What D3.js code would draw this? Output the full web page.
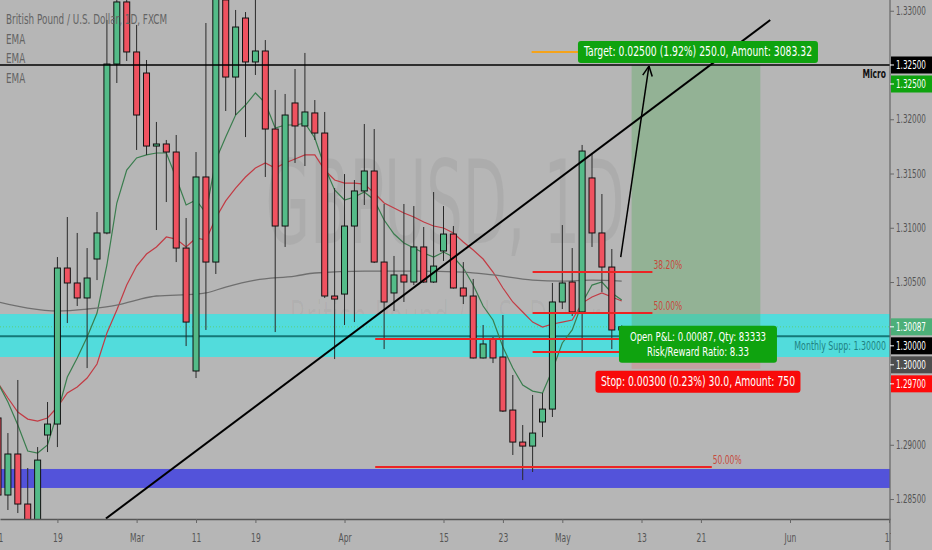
<!DOCTYPE html>
<html><head><meta charset="utf-8">
<script src="https://cdn.jsdelivr.net/npm/d3@7"></script>
<style>html,body{margin:0;padding:0;background:#b6b6b6;overflow:hidden}svg{display:block}</style>
</head><body><svg id="c" width="932" height="550"></svg>
<script>
// ---------- DATA ----------
const opens  = [1.29247,1.28537,1.28915,1.28454,1.28200,1.29090,1.29191,1.30629,1.30491,1.30353,
                1.30712,1.30952,1.32509,1.33081,1.32620,1.32426,1.31753,1.31772,1.31698,1.30813,
                1.29680,1.31468,1.30684,1.33100,1.32389,1.32933,1.32528,1.32629,1.31910,1.31016,
                1.32150,1.31938,1.32058,1.31873,1.30371,1.30389,1.31016,1.31339,1.31523,1.30684,
                1.30399,1.30565,1.30500,1.30823,1.30500,1.30786,1.30942,1.30445,1.30371,1.29800,
                1.29975,1.29809,1.29320,1.29025,1.28988,1.29210,1.29329,1.30316,1.30500,1.30224,
                1.31459,1.30952,1.30638,1.30058];
const highs  = [1.29366,1.29108,1.29597,1.28786,1.28979,1.29394,1.30730,1.31099,1.30952,1.30813,
                1.31145,1.32915,1.33300,1.33350,1.32869,1.32546,1.31975,1.31809,1.31855,1.31090,
                1.31698,1.32887,1.33400,1.33400,1.33007,1.32988,1.33120,1.32730,1.32270,1.32233,
                1.32463,1.32611,1.32177,1.32067,1.31366,1.31495,1.31440,1.31956,1.31910,1.31219,
                1.30740,1.31219,1.31200,1.31007,1.31329,1.31200,1.31016,1.30684,1.30528,1.30104,
                1.29993,1.30196,1.29643,1.29182,1.29459,1.29477,1.30491,1.31025,1.30813,1.31763,
                1.31689,1.31311,1.30804,1.30100];
const lows   = [1.28380,1.28399,1.28371,1.28000,1.27900,1.28933,1.28979,1.30122,1.30279,1.29707,
                1.30518,1.30940,1.32334,1.32537,1.31717,1.31671,1.30979,1.31237,1.30684,1.29910,
                1.29615,1.30058,1.30574,1.32076,1.32039,1.31836,1.32408,1.31468,1.30039,1.30823,
                1.31597,1.31569,1.31809,1.30353,1.29790,1.30104,1.30131,1.31210,1.30675,1.29882,
                1.30233,1.30316,1.30472,1.30491,1.30491,1.30694,1.30440,1.30297,1.29795,1.29795,
                1.29753,1.29302,1.28906,1.28675,1.28749,1.29071,1.29256,1.30251,1.30187,1.29864,
                1.30823,1.30408,1.29882,1.30040];
const closes = [1.28537,1.28915,1.28454,1.28200,1.28859,1.29191,1.30629,1.30491,1.30353,1.30537,
                1.30952,1.32509,1.33081,1.32620,1.32039,1.31753,1.31772,1.31698,1.30813,1.30131,
                1.31468,1.30684,1.33200,1.32389,1.32850,1.32528,1.32629,1.31910,1.31016,1.32039,
                1.31938,1.32067,1.31873,1.30371,1.30343,1.31016,1.31339,1.31523,1.30684,1.30316,
                1.30565,1.30500,1.30823,1.30500,1.30647,1.30942,1.30445,1.30371,1.29800,1.29929,
                1.29800,1.29311,1.29025,1.28988,1.29108,1.29329,1.30316,1.30491,1.30224,1.31707,
                1.30952,1.30638,1.30058,1.30087];
const emaFast = [1.29569,1.29394,1.29182,1.28942,1.28924,1.28998,1.29293,1.29624,1.29800,1.29993,
                 1.30214,1.30657,1.31228,1.31532,1.31643,1.31671,1.31689,1.31689,1.31459,1.31210,
                 1.31256,1.31136,1.31624,1.31836,1.32039,1.32131,1.32242,1.32150,1.31919,1.31947,
                 1.31947,1.31965,1.31827,1.31560,1.31348,1.31256,1.31283,1.31329,1.31256,1.31071,
                 1.30942,1.30859,1.30813,1.30767,1.30730,1.30776,1.30730,1.30629,1.30472,1.30279,
                 1.30150,1.29901,1.29707,1.29551,1.29495,1.29477,1.29689,1.29938,1.30058,1.30306,
                 1.30472,1.30500,1.30399,1.30334];
const emaMid  = [1.29569,1.29431,1.29302,1.29237,1.29219,1.29247,1.29348,1.29477,1.29532,1.29615,
                 1.29744,1.30030,1.30242,1.30472,1.30647,1.30758,1.30823,1.30915,1.30896,1.30823,
                 1.30906,1.30887,1.31090,1.31247,1.31366,1.31468,1.31551,1.31597,1.31551,1.31597,
                 1.31634,1.31671,1.31671,1.31532,1.31440,1.31412,1.31412,1.31403,1.31320,1.31228,
                 1.31182,1.31136,1.31099,1.31053,1.31016,1.30998,1.30952,1.30869,1.30795,1.30712,
                 1.30592,1.30445,1.30316,1.30224,1.30131,1.30085,1.30113,1.30131,1.30150,1.30306,
                 1.30362,1.30399,1.30362,1.30325];
const emaSlowIdx = [0,3,6,9,12,14,16,20,21,23,26,30,32,37,42,47,50,54,57,60,63];
const emaSlow    = [1.30316,1.30260,1.30233,1.30251,1.30288,1.30334,1.30371,1.30389,1.30399,1.30454,
                    1.30518,1.30555,1.30583,1.30601,1.30601,1.30592,1.30565,1.30518,1.30509,1.30518,1.30509];

const xTickIdx    = [0,6,14,20,26,35,45,51,57,65,71,80,90];
const xTickLabels = ["11","19","Mar","11","19","Apr","15","23","May","13","21","Jun","17"];
const priceTicks  = [1.33,1.32,1.315,1.31,1.305,1.29,1.285];

const viewIdx   = [0.2, 90.1];
const viewPrice = [1.28316, 1.33099];

const microLevel = 1.325;
const supportLevel = 1.30000, supportBand = [1.29809, 1.30205];
const blueBand = [1.28602, 1.28777];
const lastPrice = 1.30087;
const trendLine = [[10.9, 1.2832], [78, 1.32915]];
const arrowPts  = [[62.9, 1.3073], [65.75, 1.3249]];
const orangeLine = [[53.9, 1.3262], [60, 1.3262]];
const posRange = [64, 77], posEntry = 1.30000, posTarget = 1.32500, posStop = 1.29700;
const fibA = {range:[54, 66.1], levels:[1.30592, 1.30214, 1.29855], labels:["38.20%","50.00%",""]};
const fibB = {range:[38.1, 72.1], levels:[1.29975, 1.28795], labels:["","50.00%"]};
const axisLabelPrices = [1.325, 1.325, 1.30087, 1.30000, 1.30000, 1.29700];
const axisLabelText   = ["1.32500","1.32500","1.30087","1.30000","1.30000","1.29700"];
const axisLabelColors = ["#000000","#0fa30f","#4caf78","#000000","#4d4d4d","#ff0a0a"];
const targetText = "Target: 0.02500 (1.92%) 250.0, Amount: 3083.32";
const pnlText = ["Open P&L: 0.00087, Qty: 83333", "Risk/Reward Ratio: 8.33"];
const stopText = "Stop: 0.00300 (0.23%) 30.0, Amount: 750";
const headerLines = ["British Pound / U.S. Dollar, 1D, FXCM", "EMA", "EMA", "EMA"];

// ---------- DRAW ----------
const W = 932, H = 550, PW = 890, PH = 519, SX = 0.63;
const FONT = "DejaVu Sans, Verdana, sans-serif";
const svg = d3.select('#c');
svg.append('rect').attr('width', W).attr('height', H).attr('fill', '#b6b6b6');
const x = d3.scaleLinear().domain(viewIdx).range([0, PW]);
const y = d3.scaleLinear().domain(viewPrice).range([PH, 0]);

svg.append('defs').append('clipPath').attr('id', 'pc')
  .append('rect').attr('x', 0).attr('y', 0).attr('width', PW).attr('height', PH);
const plot = svg.append('g').attr('clip-path', 'url(#pc)');

function label(g, x0, y0, s, o = {}) {
  return g.append('text')
    .attr('transform', `translate(${x0},${y0}) scale(${o.sx || SX},1)`)
    .attr('font-family', o.ff || FONT).attr('font-size', o.fs || 12)
    .attr('fill', o.fill || '#555').attr('text-anchor', o.anchor || 'start')
    .attr('font-weight', o.fw || 'normal').text(s);
}

// watermark
label(plot, PW / 2, 243, 'GBPUSD, 1D', {fs: 115, sx: 0.5, anchor: 'middle', fill: 'rgba(0,0,0,0.05)'});
label(plot, PW / 2, 333, 'British Pound / U.S. Dollar', {fs: 44, sx: 0.55, anchor: 'middle', fill: 'rgba(0,0,0,0.03)'});

// bands
plot.append('rect').attr('x', 0).attr('width', PW)
  .attr('y', y(supportBand[1])).attr('height', y(supportBand[0]) - y(supportBand[1])).attr('fill', '#52dcdc');
plot.append('rect').attr('x', 0).attr('width', PW)
  .attr('y', y(blueBand[1])).attr('height', y(blueBand[0]) - y(blueBand[1])).attr('fill', '#5353da');
plot.append('line').attr('x1', 0).attr('x2', PW).attr('y1', y(supportLevel)).attr('y2', y(supportLevel))
  .attr('stroke', '#157878').attr('stroke-width', 2);
plot.append('line').attr('x1', 0).attr('x2', PW).attr('y1', y(lastPrice)).attr('y2', y(lastPrice))
  .attr('stroke', '#5ccf7c').attr('stroke-width', 1).attr('stroke-dasharray', '1,2');

// position zones
plot.append('rect').attr('x', x(posRange[0])).attr('width', x(posRange[1]) - x(posRange[0]))
  .attr('y', y(posTarget)).attr('height', y(posEntry) - y(posTarget)).attr('fill', 'rgba(90,170,95,0.38)');
plot.append('rect').attr('x', x(posRange[0])).attr('width', x(posRange[1]) - x(posRange[0]))
  .attr('y', y(posEntry)).attr('height', y(posStop) - y(posEntry)).attr('fill', 'rgba(255,60,60,0.18)');

// EMAs
const lineG = d3.line().x((d, i) => x(i)).y(d => y(d));
plot.append('path').attr('d', lineG(emaMid)).attr('fill', 'none').attr('stroke', '#c23b44').attr('stroke-width', 1.2);
plot.append('path').attr('d', lineG(emaFast)).attr('fill', 'none').attr('stroke', '#3a7d4e').attr('stroke-width', 1.2);
plot.append('path').attr('d', d3.line().curve(d3.curveMonotoneX).x((d, i) => x(emaSlowIdx[i])).y(d => y(d))(emaSlow))
  .attr('fill', 'none').attr('stroke', '#6f6f6f').attr('stroke-width', 1.3);

// candles
const idx = d3.range(opens.length);
const cg = plot.append('g');
cg.selectAll('line.w').data(idx).join('line').attr('class', 'w')
  .attr('x1', i => x(i)).attr('x2', i => x(i)).attr('y1', i => y(highs[i])).attr('y2', i => y(lows[i]))
  .attr('stroke', '#2a2a2a').attr('stroke-width', 1);
cg.selectAll('rect.b').data(idx).join('rect').attr('class', 'b')
  .attr('x', i => x(i) - 3).attr('width', 6)
  .attr('y', i => y(Math.max(opens[i], closes[i])))
  .attr('height', i => Math.max(1, y(Math.min(opens[i], closes[i])) - y(Math.max(opens[i], closes[i]))))
  .attr('fill', i => closes[i] >= opens[i] ? '#54bb88' : '#f05260')
  .attr('stroke', '#111').attr('stroke-width', 1);

// fib lines
[fibA, fibB].forEach(f => {
  f.levels.forEach((lv, k) => {
    plot.append('line').attr('x1', x(f.range[0])).attr('x2', x(f.range[1])).attr('y1', y(lv)).attr('y2', y(lv))
      .attr('stroke', '#ec2424').attr('stroke-width', 2);
    if (f.labels[k]) label(plot, x(f.range[1]) + 1, y(lv) - 3, f.labels[k], {fs: 12, fill: '#c64a3c'});
  });
});

// trend line, micro line, arrow, orange line
plot.append('line').attr('x1', x(trendLine[0][0])).attr('y1', y(trendLine[0][1]))
  .attr('x2', x(trendLine[1][0])).attr('y2', y(trendLine[1][1])).attr('stroke', '#000').attr('stroke-width', 2);
plot.append('line').attr('x1', 0).attr('x2', PW).attr('y1', y(microLevel)).attr('y2', y(microLevel))
  .attr('stroke', '#000').attr('stroke-width', 1.5);
label(plot, 886, y(microLevel) + 13, 'Micro', {fs: 12, fw: 'bold', fill: '#111', anchor: 'end'});
label(plot, 886, y(supportLevel) + 14, 'Monthly Supp: 1.30000', {fs: 12.5, fill: '#1f8282', anchor: 'end'});

const ax0 = x(arrowPts[0][0]), ay0 = y(arrowPts[0][1]), ax1 = x(arrowPts[1][0]), ay1 = y(arrowPts[1][1]);
plot.append('line').attr('x1', ax0).attr('y1', ay0).attr('x2', ax1).attr('y2', ay1).attr('stroke', '#000').attr('stroke-width', 1.5);
const ang = Math.atan2(ay1 - ay0, ax1 - ax0);
[-0.45, 0.45].forEach(da => {
  plot.append('line').attr('x1', ax1).attr('y1', ay1)
    .attr('x2', ax1 - 11 * Math.cos(ang + da)).attr('y2', ay1 - 11 * Math.sin(ang + da))
    .attr('stroke', '#000').attr('stroke-width', 1.5);
});
plot.append('line').attr('x1', x(orangeLine[0][0])).attr('x2', x(orangeLine[1][0]))
  .attr('y1', y(orangeLine[0][1])).attr('y2', y(orangeLine[1][1])).attr('stroke', '#f5a31a').attr('stroke-width', 2);

// position labels
const pcx = (x(posRange[0]) + x(posRange[1])) / 2;
function box(cx, top, w, h, fill, lines, fs, lh) {
  plot.append('rect').attr('x', cx - w / 2).attr('y', top).attr('width', w).attr('height', h)
    .attr('rx', 3).attr('fill', fill);
  lines.forEach((s, k) => label(plot, cx, top + (h - lines.length * lh) / 2 + lh * (k + 1) - 3.5, s,
    {fs: fs, sx: 0.66, fill: '#fff', anchor: 'middle'}));
}
box(pcx + 2, y(posTarget) - 24, 240, 22, '#0fa30f', [targetText], 14, 15);
box(pcx + 2, y(lastPrice) - 1, 158, 37, '#0fa30f', pnlText, 13, 15);
box(pcx + 2, y(posStop) + 2, 205, 22, '#f80a0a', [stopText], 14, 15);

// bottom axis
const xa = svg.append('g').attr('transform', `translate(0,${PH})`)
  .call(d3.axisBottom(x).tickValues(xTickIdx).tickFormat((d, i) => xTickLabels[i]).tickSize(4).tickSizeOuter(0));
xa.select('.domain').attr('stroke', '#555').attr('stroke-width', 1.5);
xa.selectAll('.tick line').attr('stroke', '#666');
xa.selectAll('.tick text').attr('font-family', FONT).attr('font-size', 12).attr('fill', '#555')
  .attr('y', 14).attr('transform', `scale(${SX},1)`);

// right panel
svg.append('rect').attr('x', PW + 1).attr('y', 0).attr('width', W - PW).attr('height', H).attr('fill', '#b6b6b6');
svg.append('line').attr('x1', PW).attr('x2', PW).attr('y1', 0).attr('y2', H).attr('stroke', '#666').attr('stroke-width', 1.2);
const ya = svg.append('g').attr('transform', `translate(${PW},0)`)
  .call(d3.axisRight(y).tickValues(priceTicks).tickFormat(d3.format('.5f')).tickSize(4).tickSizeOuter(0));
ya.select('.domain').remove();
ya.selectAll('.tick line').attr('stroke', '#666');
ya.selectAll('.tick text').each(function () {
  const t = d3.select(this);
  t.attr('x', 6 / SX).attr('transform', `scale(${SX},1)`);
}).attr('font-family', FONT).attr('font-size', 11.5).attr('fill', '#555');

// axis price labels (stacked to avoid overlap)
let prevBottom = -Infinity;
const LH = 17, GAP = 2;
axisLabelPrices.forEach((p, k) => {
  let cy = y(p);
  if (cy - LH / 2 < prevBottom + GAP) cy = prevBottom + GAP + LH / 2;
  prevBottom = cy + LH / 2;
  svg.append('rect').attr('x', PW + 1).attr('y', cy - LH / 2).attr('width', W - PW).attr('height', LH)
    .attr('fill', axisLabelColors[k]);
  svg.append('line').attr('x1', PW).attr('x2', PW + 4).attr('y1', cy).attr('y2', cy).attr('stroke', '#fff');
  label(svg, PW + 6, cy + 4, axisLabelText[k], {fs: 11.5, fill: '#fff'});
});

// header
headerLines.forEach((s, k) => label(svg, 6, 24 + k * 19.7, s, {fs: 14, fill: '#646464'}));
</script></body></html>
